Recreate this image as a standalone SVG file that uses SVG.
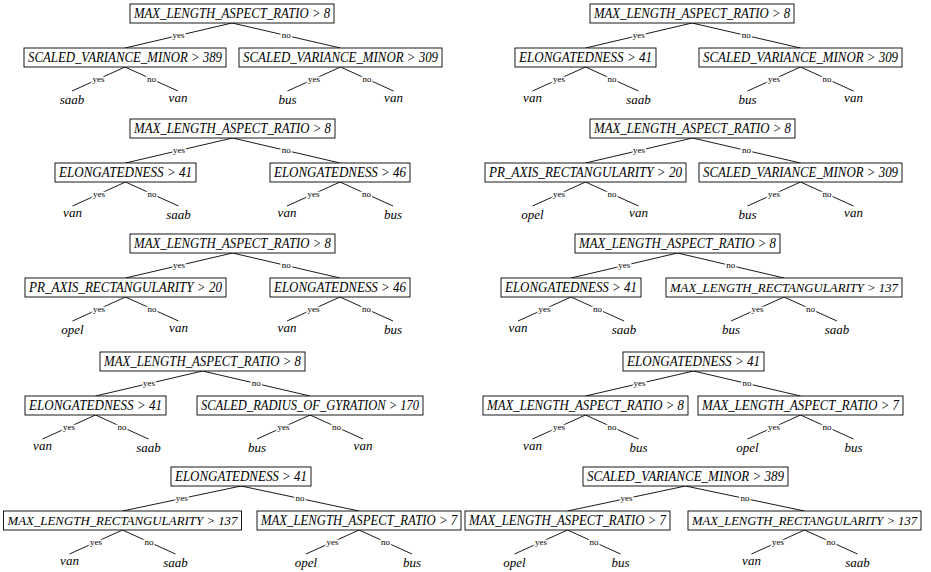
<svg xmlns="http://www.w3.org/2000/svg" width="931" height="572" viewBox="0 0 931 572" font-family="'Liberation Serif', 'DejaVu Serif', serif">
<style>
.bx{fill:#fff;stroke:#000;stroke-width:0.9}
.e{stroke:#000;stroke-width:0.9;fill:none}
.nt{font-family:'Liberation Serif','DejaVu Serif',serif;font-style:italic;font-size:14px;text-anchor:middle;fill:#000}
.sm{font-size:13px}
.lb{font-family:'Liberation Serif','DejaVu Serif',serif;font-size:9px;text-anchor:middle;fill:#000;stroke:#fff;stroke-width:3;paint-order:stroke}
.lf{font-family:'Liberation Serif','DejaVu Serif',serif;font-style:italic;font-size:13px;text-anchor:middle;fill:#000}
</style>
<rect width="931" height="572" fill="#fff"/>

<!-- Tree 1 left -->
<g id="t1l" transform="translate(0,4)">
<g id="t1l-edges">
<path class="e" d="M232,19L125,44M232,19L340.5,44M125,63L72,87M125,63L178,87M340.5,63L287.5,87M340.5,63L393.5,87"/>
<text class="lb" x="178.5" y="34">yes</text><text class="lb" x="286.3" y="34">no</text>
<text class="lb" x="98.5" y="77.5">yes</text><text class="lb" x="151.5" y="77.5">no</text>
<text class="lb" x="314" y="77.5">yes</text><text class="lb" x="367" y="77.5">no</text>
</g>
<g id="t1l-root"><rect class="bx" x="130" y="0" width="204" height="19"/><text class="nt" x="232" y="14" textLength="196" lengthAdjust="spacingAndGlyphs">MAX_LENGTH_ASPECT_RATIO &gt; 8</text></g>
<g id="t1l-l"><rect class="bx" x="24" y="44" width="202" height="19"/><text class="nt" x="125" y="58" textLength="194" lengthAdjust="spacingAndGlyphs">SCALED_VARIANCE_MINOR &gt; 389</text></g>
<g id="t1l-r"><rect class="bx" x="239" y="44" width="203" height="19"/><text class="nt" x="340.5" y="58" textLength="195" lengthAdjust="spacingAndGlyphs">SCALED_VARIANCE_MINOR &gt; 309</text></g>
<g id="t1l-ll"><text class="lf" x="72" y="100">saab</text></g>
<g id="t1l-lr"><text class="lf" x="178" y="98">van</text></g>
<g id="t1l-rl"><text class="lf" x="287.5" y="100">bus</text></g>
<g id="t1l-rr"><text class="lf" x="393.5" y="98">van</text></g>
</g>

<!-- Tree 1 right -->
<g id="t1r" transform="translate(0,4)">
<g id="t1r-edges">
<path class="e" d="M692,19L585.5,44M692,19L800.5,44M585.5,63L532.5,87M585.5,63L638.5,87M800.5,63L747.5,87M800.5,63L853.5,87"/>
<text class="lb" x="638.8" y="34">yes</text><text class="lb" x="746.3" y="34">no</text>
<text class="lb" x="559" y="77.5">yes</text><text class="lb" x="612" y="77.5">no</text>
<text class="lb" x="774" y="77.5">yes</text><text class="lb" x="827" y="77.5">no</text>
</g>
<g id="t1r-root"><rect class="bx" x="590" y="0" width="204" height="19"/><text class="nt" x="692" y="14" textLength="196" lengthAdjust="spacingAndGlyphs">MAX_LENGTH_ASPECT_RATIO &gt; 8</text></g>
<g id="t1r-l"><rect class="bx" x="515" y="44" width="141" height="19"/><text class="nt" x="585.5" y="58" textLength="133" lengthAdjust="spacingAndGlyphs">ELONGATEDNESS &gt; 41</text></g>
<g id="t1r-r"><rect class="bx" x="699" y="44" width="203" height="19"/><text class="nt" x="800.5" y="58" textLength="195" lengthAdjust="spacingAndGlyphs">SCALED_VARIANCE_MINOR &gt; 309</text></g>
<g id="t1r-ll"><text class="lf" x="532.5" y="98">van</text></g>
<g id="t1r-lr"><text class="lf" x="638.5" y="100">saab</text></g>
<g id="t1r-rl"><text class="lf" x="747.5" y="100">bus</text></g>
<g id="t1r-rr"><text class="lf" x="853.5" y="98">van</text></g>
</g>

<!-- Tree 2 left -->
<g id="t2l" transform="translate(0,119)">
<g id="t2l-edges">
<path class="e" d="M232.5,19L125.5,44M232.5,19L340,44M125.5,63L72.5,87M125.5,63L178.5,87M340,63L287,87M340,63L393,87"/>
<text class="lb" x="179" y="34">yes</text><text class="lb" x="286.3" y="34">no</text>
<text class="lb" x="99" y="77.5">yes</text><text class="lb" x="152" y="77.5">no</text>
<text class="lb" x="313.5" y="77.5">yes</text><text class="lb" x="366.5" y="77.5">no</text>
</g>
<g id="t2l-root"><rect class="bx" x="130" y="0" width="205" height="19"/><text class="nt" x="232.5" y="14" textLength="197" lengthAdjust="spacingAndGlyphs">MAX_LENGTH_ASPECT_RATIO &gt; 8</text></g>
<g id="t2l-l"><rect class="bx" x="55" y="44" width="141" height="19"/><text class="nt" x="125.5" y="58" textLength="133" lengthAdjust="spacingAndGlyphs">ELONGATEDNESS &gt; 41</text></g>
<g id="t2l-r"><rect class="bx" x="270" y="44" width="140" height="19"/><text class="nt" x="340" y="58" textLength="132" lengthAdjust="spacingAndGlyphs">ELONGATEDNESS &gt; 46</text></g>
<g id="t2l-ll"><text class="lf" x="72.5" y="98">van</text></g>
<g id="t2l-lr"><text class="lf" x="178.5" y="100">saab</text></g>
<g id="t2l-rl"><text class="lf" x="287" y="98">van</text></g>
<g id="t2l-rr"><text class="lf" x="393" y="100">bus</text></g>
</g>

<!-- Tree 2 right -->
<g id="t2r" transform="translate(0,119)">
<g id="t2r-edges">
<path class="e" d="M692.5,19L585.5,44M692.5,19L800.5,44M585.5,63L532.5,87M585.5,63L638.5,87M800.5,63L747.5,87M800.5,63L853.5,87"/>
<text class="lb" x="639" y="34">yes</text><text class="lb" x="746.5" y="34">no</text>
<text class="lb" x="559" y="77.5">yes</text><text class="lb" x="612" y="77.5">no</text>
<text class="lb" x="774" y="77.5">yes</text><text class="lb" x="827" y="77.5">no</text>
</g>
<g id="t2r-root"><rect class="bx" x="590" y="0" width="205" height="19"/><text class="nt" x="692.5" y="14" textLength="197" lengthAdjust="spacingAndGlyphs">MAX_LENGTH_ASPECT_RATIO &gt; 8</text></g>
<g id="t2r-l"><rect class="bx" x="485" y="44" width="201" height="19"/><text class="nt" x="585.5" y="58" textLength="193" lengthAdjust="spacingAndGlyphs">PR_AXIS_RECTANGULARITY &gt; 20</text></g>
<g id="t2r-r"><rect class="bx" x="699" y="44" width="203" height="19"/><text class="nt" x="800.5" y="58" textLength="195" lengthAdjust="spacingAndGlyphs">SCALED_VARIANCE_MINOR &gt; 309</text></g>
<g id="t2r-ll"><text class="lf" x="532.5" y="100">opel</text></g>
<g id="t2r-lr"><text class="lf" x="638.5" y="98">van</text></g>
<g id="t2r-rl"><text class="lf" x="747.5" y="100">bus</text></g>
<g id="t2r-rr"><text class="lf" x="853.5" y="98">van</text></g>
</g>

<!-- Tree 3 left -->
<g id="t3l" transform="translate(0,234)">
<g id="t3l-edges">
<path class="e" d="M232.5,19L125.5,44M232.5,19L340,44M125.5,63L72.5,87M125.5,63L178.5,87M340,63L287,87M340,63L393,87"/>
<text class="lb" x="179" y="34">yes</text><text class="lb" x="286.3" y="34">no</text>
<text class="lb" x="99" y="77.5">yes</text><text class="lb" x="152" y="77.5">no</text>
<text class="lb" x="313.5" y="77.5">yes</text><text class="lb" x="366.5" y="77.5">no</text>
</g>
<g id="t3l-root"><rect class="bx" x="130" y="0" width="205" height="19"/><text class="nt" x="232.5" y="14" textLength="197" lengthAdjust="spacingAndGlyphs">MAX_LENGTH_ASPECT_RATIO &gt; 8</text></g>
<g id="t3l-l"><rect class="bx" x="25" y="44" width="201" height="19"/><text class="nt" x="125.5" y="58" textLength="193" lengthAdjust="spacingAndGlyphs">PR_AXIS_RECTANGULARITY &gt; 20</text></g>
<g id="t3l-r"><rect class="bx" x="270" y="44" width="140" height="19"/><text class="nt" x="340" y="58" textLength="132" lengthAdjust="spacingAndGlyphs">ELONGATEDNESS &gt; 46</text></g>
<g id="t3l-ll"><text class="lf" x="72.5" y="100">opel</text></g>
<g id="t3l-lr"><text class="lf" x="178.5" y="98">van</text></g>
<g id="t3l-rl"><text class="lf" x="287" y="98">van</text></g>
<g id="t3l-rr"><text class="lf" x="393" y="100">bus</text></g>
</g>

<!-- Tree 3 right -->
<g id="t3r" transform="translate(0,234)">
<g id="t3r-edges">
<path class="e" d="M677.5,19L571,44M677.5,19L784,44M571,63L518,87M571,63L624,87M784,63L731,87M784,63L837,87"/>
<text class="lb" x="624.3" y="34">yes</text><text class="lb" x="730.8" y="34">no</text>
<text class="lb" x="544.5" y="77.5">yes</text><text class="lb" x="597.5" y="77.5">no</text>
<text class="lb" x="757.5" y="77.5">yes</text><text class="lb" x="810.5" y="77.5">no</text>
</g>
<g id="t3r-root"><rect class="bx" x="575" y="0" width="205" height="19"/><text class="nt" x="677.5" y="14" textLength="197" lengthAdjust="spacingAndGlyphs">MAX_LENGTH_ASPECT_RATIO &gt; 8</text></g>
<g id="t3r-l"><rect class="bx" x="501" y="44" width="140" height="19"/><text class="nt" x="571" y="58" textLength="132" lengthAdjust="spacingAndGlyphs">ELONGATEDNESS &gt; 41</text></g>
<g id="t3r-r"><rect class="bx" x="666" y="44" width="236" height="19"/><text class="nt sm" x="784" y="58" textLength="228" lengthAdjust="spacingAndGlyphs">MAX_LENGTH_RECTANGULARITY &gt; 137</text></g>
<g id="t3r-ll"><text class="lf" x="518" y="98">van</text></g>
<g id="t3r-lr"><text class="lf" x="624" y="100">saab</text></g>
<g id="t3r-rl"><text class="lf" x="731" y="100">bus</text></g>
<g id="t3r-rr"><text class="lf" x="837" y="100">saab</text></g>
</g>

<!-- Tree 4 left -->
<g id="t4l" transform="translate(0,352)">
<g id="t4l-edges">
<path class="e" d="M202.5,19L95.5,44M202.5,19L310,44M95.5,63L42.5,87M95.5,63L148.5,87M310,63L257,87M310,63L363,87"/>
<text class="lb" x="149" y="34">yes</text><text class="lb" x="256.3" y="34">no</text>
<text class="lb" x="69" y="77.5">yes</text><text class="lb" x="122" y="77.5">no</text>
<text class="lb" x="283.5" y="77.5">yes</text><text class="lb" x="336.5" y="77.5">no</text>
</g>
<g id="t4l-root"><rect class="bx" x="100" y="0" width="205" height="19"/><text class="nt" x="202.5" y="14" textLength="197" lengthAdjust="spacingAndGlyphs">MAX_LENGTH_ASPECT_RATIO &gt; 8</text></g>
<g id="t4l-l"><rect class="bx" x="25" y="44" width="141" height="19"/><text class="nt" x="95.5" y="58" textLength="133" lengthAdjust="spacingAndGlyphs">ELONGATEDNESS &gt; 41</text></g>
<g id="t4l-r"><rect class="bx" x="197" y="44" width="226" height="19"/><text class="nt" x="310" y="58" textLength="218" lengthAdjust="spacingAndGlyphs">SCALED_RADIUS_OF_GYRATION &gt; 170</text></g>
<g id="t4l-ll"><text class="lf" x="42.5" y="98">van</text></g>
<g id="t4l-lr"><text class="lf" x="148.5" y="100">saab</text></g>
<g id="t4l-rl"><text class="lf" x="257" y="100">bus</text></g>
<g id="t4l-rr"><text class="lf" x="363" y="98">van</text></g>
</g>

<!-- Tree 4 right -->
<g id="t4r" transform="translate(0,352)">
<g id="t4r-edges">
<path class="e" d="M693.5,19L585.5,44M693.5,19L800.5,44M585.5,63L532.5,87M585.5,63L638.5,87M800.5,63L747.5,87M800.5,63L853.5,87"/>
<text class="lb" x="639.5" y="34">yes</text><text class="lb" x="747" y="34">no</text>
<text class="lb" x="559" y="77.5">yes</text><text class="lb" x="612" y="77.5">no</text>
<text class="lb" x="774" y="77.5">yes</text><text class="lb" x="827" y="77.5">no</text>
</g>
<g id="t4r-root"><rect class="bx" x="623" y="0" width="141" height="19"/><text class="nt" x="693.5" y="14" textLength="133" lengthAdjust="spacingAndGlyphs">ELONGATEDNESS &gt; 41</text></g>
<g id="t4r-l"><rect class="bx" x="483" y="44" width="205" height="19"/><text class="nt" x="585.5" y="58" textLength="197" lengthAdjust="spacingAndGlyphs">MAX_LENGTH_ASPECT_RATIO &gt; 8</text></g>
<g id="t4r-r"><rect class="bx" x="698" y="44" width="205" height="19"/><text class="nt" x="800.5" y="58" textLength="197" lengthAdjust="spacingAndGlyphs">MAX_LENGTH_ASPECT_RATIO &gt; 7</text></g>
<g id="t4r-ll"><text class="lf" x="532.5" y="98">van</text></g>
<g id="t4r-lr"><text class="lf" x="638.5" y="100">bus</text></g>
<g id="t4r-rl"><text class="lf" x="747.5" y="100">opel</text></g>
<g id="t4r-rr"><text class="lf" x="853.5" y="100">bus</text></g>
</g>

<!-- Tree 5 left -->
<g id="t5l" transform="translate(0,467)">
<g id="t5l-edges">
<path class="e" d="M241,19L122.5,44M241,19L359,44M122.5,63L69.5,87M122.5,63L175.5,87M359,63L306,87M359,63L412,87"/>
<text class="lb" x="181.8" y="34">yes</text><text class="lb" x="300" y="34">no</text>
<text class="lb" x="96" y="77.5">yes</text><text class="lb" x="149" y="77.5">no</text>
<text class="lb" x="332.5" y="77.5">yes</text><text class="lb" x="385.5" y="77.5">no</text>
</g>
<g id="t5l-root"><rect class="bx" x="171" y="0" width="140" height="19"/><text class="nt" x="241" y="14" textLength="132" lengthAdjust="spacingAndGlyphs">ELONGATEDNESS &gt; 41</text></g>
<g id="t5l-l"><rect class="bx" x="3.5" y="44" width="238" height="19"/><text class="nt sm" x="122.5" y="58" textLength="230" lengthAdjust="spacingAndGlyphs">MAX_LENGTH_RECTANGULARITY &gt; 137</text></g>
<g id="t5l-r"><rect class="bx" x="257" y="44" width="204" height="19"/><text class="nt" x="359" y="58" textLength="196" lengthAdjust="spacingAndGlyphs">MAX_LENGTH_ASPECT_RATIO &gt; 7</text></g>
<g id="t5l-ll"><text class="lf" x="69.5" y="98">van</text></g>
<g id="t5l-lr"><text class="lf" x="175.5" y="100">saab</text></g>
<g id="t5l-rl"><text class="lf" x="306" y="100">opel</text></g>
<g id="t5l-rr"><text class="lf" x="412" y="100">bus</text></g>
</g>

<!-- Tree 5 right -->
<g id="t5r" transform="translate(0,467)">
<g id="t5r-edges">
<path class="e" d="M685.5,19L567.5,44M685.5,19L804.5,44M567.5,63L514.5,87M567.5,63L620.5,87M804.5,63L751.5,87M804.5,63L857.5,87"/>
<text class="lb" x="626.5" y="34">yes</text><text class="lb" x="745" y="34">no</text>
<text class="lb" x="541" y="77.5">yes</text><text class="lb" x="594" y="77.5">no</text>
<text class="lb" x="778" y="77.5">yes</text><text class="lb" x="831" y="77.5">no</text>
</g>
<g id="t5r-root"><rect class="bx" x="583" y="0" width="205" height="19"/><text class="nt" x="685.5" y="14" textLength="197" lengthAdjust="spacingAndGlyphs">SCALED_VARIANCE_MINOR &gt; 389</text></g>
<g id="t5r-l"><rect class="bx" x="465" y="44" width="205" height="19"/><text class="nt" x="567.5" y="58" textLength="197" lengthAdjust="spacingAndGlyphs">MAX_LENGTH_ASPECT_RATIO &gt; 7</text></g>
<g id="t5r-r"><rect class="bx" x="688" y="44" width="233" height="19"/><text class="nt sm" x="804.5" y="58" textLength="225" lengthAdjust="spacingAndGlyphs">MAX_LENGTH_RECTANGULARITY &gt; 137</text></g>
<g id="t5r-ll"><text class="lf" x="514.5" y="100">opel</text></g>
<g id="t5r-lr"><text class="lf" x="620.5" y="100">bus</text></g>
<g id="t5r-rl"><text class="lf" x="751.5" y="98">van</text></g>
<g id="t5r-rr"><text class="lf" x="857.5" y="100">saab</text></g>
</g>
</svg>
